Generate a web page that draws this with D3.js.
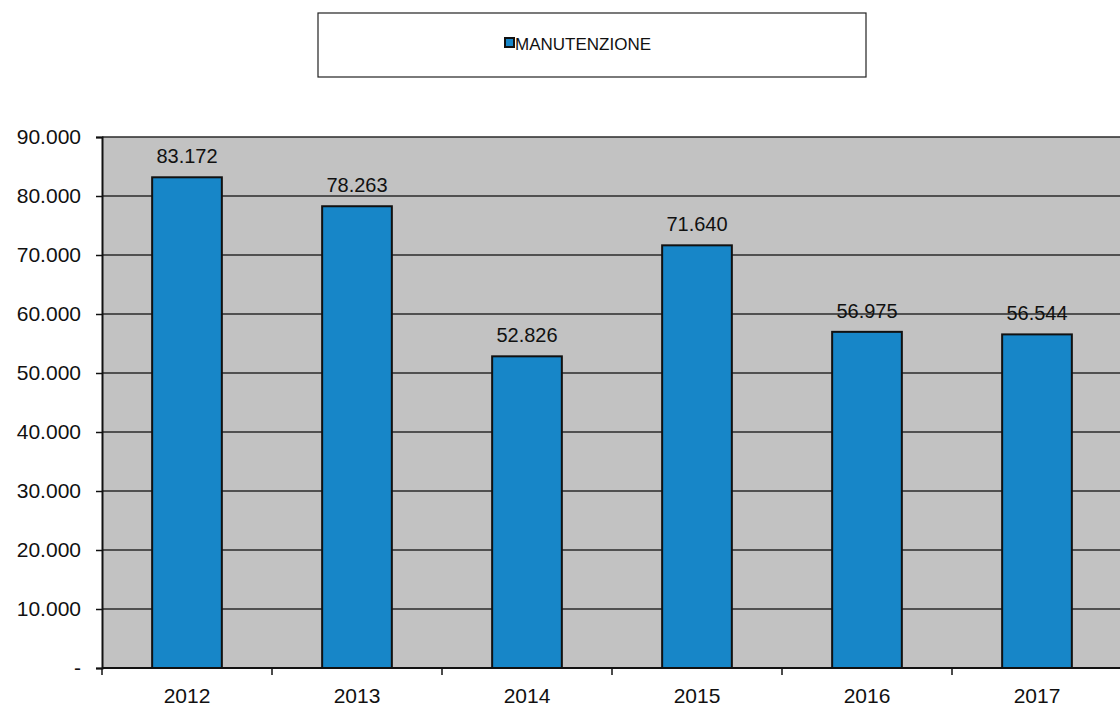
<!DOCTYPE html>
<html><head><meta charset="utf-8">
<script src="https://cdn.jsdelivr.net/npm/d3@7"></script>
<style>body{margin:0;background:#fff}svg{display:block}text{font-family:"Liberation Sans",Arial,sans-serif;fill:#111}</style>
</head><body>
<svg id="c" width="1120" height="713"></svg>
<script>
const categories = ["2012","2013","2014","2015","2016","2017"];
const values = [83172, 78263, 52826, 71640, 56975, 56544];
const yTicks = [0,10000,20000,30000,40000,50000,60000,70000,80000,90000];
const seriesName = "MANUTENZIONE";

(function(){
const svg = d3.select("#c");
const pL = 102, pR = 1122, pT = 137, pB = 668;
const x = d3.scaleBand().domain(categories).range([pL, pR]).paddingInner(0.59).paddingOuter(0.295);
const y = d3.scaleLinear().domain([0, 90000]).range([pB, pT]);
const fmt = v => v === 0 ? "-" : d3.format(",")(v).replace(/,/g, ".");

svg.append("rect").attr("x", pL).attr("y", pT).attr("width", 1120 - pL).attr("height", pB - pT).attr("fill", "#c2c2c2");

svg.append("g").selectAll("line").data(yTicks.filter(d => d > 0)).join("line")
  .attr("x1", pL).attr("x2", 1120).attr("y1", d => y(d)).attr("y2", d => y(d))
  .attr("stroke", "#2a2a2a").attr("stroke-width", 1.5);

const ya = svg.append("g").attr("transform", `translate(${pL},0)`)
  .call(d3.axisLeft(y).tickValues(yTicks).tickFormat(fmt).tickSize(6).tickPadding(15));
ya.select(".domain").attr("stroke", "#111").attr("stroke-width", 2);
ya.selectAll(".tick line").attr("stroke", "#111").attr("stroke-width", 1.5);
ya.selectAll("text").attr("font-size", 21).attr("fill", "#111").attr("font-family", "Liberation Sans, Arial, sans-serif");

svg.append("g").selectAll("rect").data(values).join("rect")
  .attr("x", (d, i) => x(categories[i])).attr("width", x.bandwidth())
  .attr("y", d => y(d)).attr("height", d => pB - y(d))
  .attr("fill", "#1786c8").attr("stroke", "#111").attr("stroke-width", 2);

svg.append("g").selectAll("text").data(values).join("text")
  .attr("x", (d, i) => x(categories[i]) + x.bandwidth() / 2)
  .attr("y", d => y(d) - 14)
  .attr("text-anchor", "middle").attr("font-size", 20)
  .text(d => fmt(d));

const xa = svg.append("g").attr("transform", `translate(0,${pB})`)
  .call(d3.axisBottom(x).tickSize(0).tickPadding(20));
xa.select(".domain").remove();
xa.selectAll("text").attr("font-size", 21).attr("fill", "#111").attr("font-family", "Liberation Sans, Arial, sans-serif");
svg.append("line").attr("x1", pL).attr("x2", 1120).attr("y1", pB).attr("y2", pB).attr("stroke", "#111").attr("stroke-width", 2);
svg.append("g").selectAll("line").data(categories.slice(0, -1)).join("line")
  .attr("x1", d => x(d) + x.bandwidth() / 2 + x.step() / 2).attr("x2", d => x(d) + x.bandwidth() / 2 + x.step() / 2)
  .attr("y1", pB).attr("y2", pB + 7).attr("stroke", "#111").attr("stroke-width", 1.5);
svg.append("line").attr("x1", pL).attr("x2", pL).attr("y1", pB).attr("y2", pB + 7).attr("stroke", "#111").attr("stroke-width", 1.5);

const lg = svg.append("g");
lg.append("rect").attr("x", 318).attr("y", 13).attr("width", 548).attr("height", 64).attr("fill", "#fff").attr("stroke", "#222").attr("stroke-width", 1.2);
lg.append("rect").attr("x", 505).attr("y", 38).attr("width", 9).attr("height", 9).attr("fill", "#1786c8").attr("stroke", "#111").attr("stroke-width", 2);
lg.append("text").attr("x", 515).attr("y", 50).attr("font-size", 17).text(seriesName);
})();
</script>
</body></html>
